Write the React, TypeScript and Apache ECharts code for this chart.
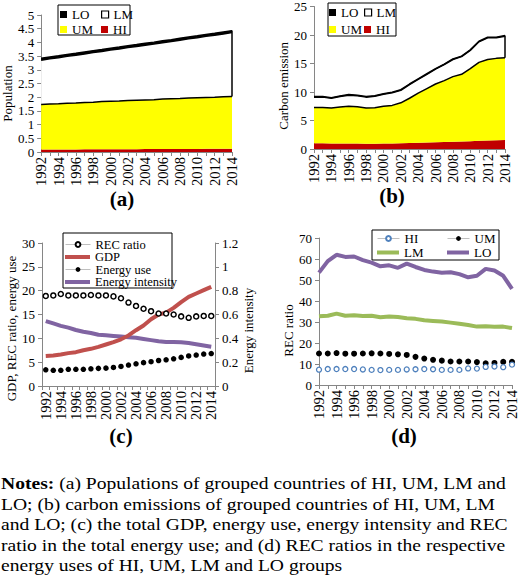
import React, { useEffect, useRef } from "react";
import * as echarts from "echarts";

// ---- data ----
const years = [
  "1992", "1993", "1994", "1995", "1996", "1997", "1998", "1999", "2000", "2001", "2002", "2003",
  "2004", "2005", "2006", "2007", "2008", "2009", "2010", "2011", "2012", "2013", "2014",
];

// (a) population by income group (stacked)
const popHI = [0.09, 0.09, 0.09, 0.09, 0.09, 0.1, 0.1, 0.1, 0.1, 0.1, 0.1, 0.1, 0.11, 0.11, 0.11, 0.11, 0.11, 0.11, 0.11, 0.12, 0.12, 0.12, 0.12];
const popUM = [1.64, 1.66, 1.67, 1.69, 1.7, 1.71, 1.72, 1.74, 1.75, 1.76, 1.78, 1.79, 1.79, 1.8, 1.82, 1.83, 1.84, 1.86, 1.87, 1.87, 1.88, 1.9, 1.91];
const popLM = [1.62, 1.65, 1.68, 1.71, 1.74, 1.77, 1.81, 1.83, 1.87, 1.9, 1.93, 1.96, 2.0, 2.03, 2.06, 2.09, 2.13, 2.16, 2.19, 2.23, 2.26, 2.29, 2.33];
const popLO = [0.07, 0.07, 0.07, 0.07, 0.07, 0.07, 0.07, 0.07, 0.07, 0.07, 0.07, 0.07, 0.07, 0.07, 0.07, 0.07, 0.07, 0.07, 0.07, 0.07, 0.07, 0.07, 0.07];

// (b) carbon emission by income group (stacked)
const co2HI = [1.0, 1.0, 0.98, 0.97, 0.96, 0.95, 0.94, 0.94, 0.96, 0.98, 1.0, 1.05, 1.1, 1.15, 1.2, 1.25, 1.28, 1.3, 1.38, 1.45, 1.5, 1.52, 1.58];
const co2UM = [6.27, 6.3, 6.22, 6.38, 6.54, 6.45, 6.26, 6.31, 6.54, 6.67, 7.1, 7.85, 8.7, 9.45, 10.2, 10.75, 11.42, 11.8, 12.72, 13.75, 14.2, 14.38, 14.42];
const co2LM = [1.83, 1.8, 1.7, 1.85, 1.95, 1.95, 1.9, 2.0, 2.1, 2.2, 2.2, 2.4, 2.4, 2.5, 2.6, 2.8, 3.0, 3.1, 3.2, 3.6, 3.8, 3.6, 3.8];
const co2LO = [0.1, 0.1, 0.1, 0.1, 0.1, 0.1, 0.1, 0.1, 0.1, 0.1, 0.1, 0.1, 0.1, 0.1, 0.1, 0.1, 0.1, 0.1, 0.1, 0.1, 0.1, 0.1, 0.1];

// (c) totals
const recRatio = [18.9, 19.0, 19.3, 19.0, 19.0, 19.0, 19.1, 19.0, 19.0, 18.8, 18.4, 17.5, 16.8, 16.2, 15.7, 15.2, 15.2, 15.0, 14.6, 14.3, 14.6, 14.7, 14.7];
const gdp = [6.3, 6.4, 6.6, 6.9, 7.1, 7.5, 7.8, 8.2, 8.7, 9.2, 9.8, 10.6, 11.7, 12.7, 14.0, 15.0, 15.4, 16.4, 17.6, 18.7, 19.4, 20.1, 20.8];
const energyUse = [3.4, 3.3, 3.3, 3.5, 3.5, 3.5, 3.6, 3.7, 3.75, 3.9, 4.1, 4.4, 4.65, 4.9, 5.1, 5.35, 5.5, 5.7, 6.0, 6.3, 6.5, 6.7, 6.8];
const energyIntensity = [0.545, 0.525, 0.505, 0.49, 0.47, 0.455, 0.445, 0.43, 0.425, 0.42, 0.415, 0.41, 0.405, 0.395, 0.385, 0.375, 0.37, 0.37, 0.367, 0.36, 0.35, 0.34, 0.33];

// (d) REC ratio by income group
const recHI = [7.3, 7.6, 7.6, 7.6, 7.6, 7.4, 7.2, 7.1, 7.2, 7.2, 7.4, 7.5, 7.6, 7.5, 7.2, 7.2, 7.2, 7.9, 7.8, 8.6, 8.8, 8.5, 9.7];
const recUM = [15.0, 15.0, 15.2, 14.9, 14.9, 15.0, 15.1, 15.0, 14.8, 14.6, 14.3, 13.4, 12.6, 12.0, 11.6, 11.2, 11.2, 11.2, 10.9, 10.3, 10.5, 11.0, 11.0];
const recLM = [32.7, 33.0, 34.0, 33.0, 33.2, 32.9, 33.0, 32.3, 32.6, 32.4, 31.8, 31.5, 30.8, 30.5, 30.2, 29.7, 29.2, 28.6, 27.8, 28.0, 27.7, 27.8, 27.1];
const recLO = [53.5, 59.0, 62.0, 61.0, 61.2, 59.5, 58.3, 56.5, 57.0, 55.8, 57.8, 56.2, 54.8, 54.0, 53.5, 53.7, 52.8, 51.3, 52.0, 55.3, 54.5, 52.0, 45.8];

const noteLines = [
  "{b|Notes:} (a) Populations of grouped countries of HI, UM, LM and",
  "LO; (b) carbon emissions of grouped countries of HI, UM, LM",
  "and LO; (c) the total GDP, energy use, energy intensity and REC",
  "ratio in the total energy use; and (d) REC ratios in the respective",
  "energy uses of HI, UM, LM and LO groups",
];

// ---- styling ----
const serif = "'Liberation Serif', 'Times New Roman', serif";
const axisGray = "#868686";
const C = {
  red: "#C00000",
  yellow: "#FFFF00",
  gdp: "#C0504D",
  purple: "#8064A2",
  green: "#9BBB59",
  blue: "#4F81BD",
};
const FS = 13;

const last = years.length - 1;
const stackTop = (arrs: number[][], i: number) => arrs.reduce((s, a) => s + a[i], 0);

function catAxis(gridIndex: number, boundaryGap: boolean) {
  return {
    type: "category",
    gridIndex,
    data: years,
    boundaryGap,
    axisLine: { lineStyle: { color: axisGray, width: 1 } },
    axisTick: { show: true, interval: 0, length: 4, lineStyle: { color: axisGray } },
    axisLabel: { interval: 1, rotate: 90, fontFamily: serif, fontSize: 14.5, color: "#000", margin: 5 },
    splitLine: { show: false },
  };
}

function valAxis(gridIndex: number, min: number, max: number, interval: number, name: string, nameGap: number, shift: number, position = "left") {
  return {
    type: "value",
    gridIndex,
    position,
    min,
    max,
    interval,
    axisLine: { show: true, lineStyle: { color: axisGray, width: 1 } },
    axisTick: { show: true, length: 4, lineStyle: { color: axisGray } },
    axisLabel: { fontFamily: serif, fontSize: FS, color: "#000", margin: 7 },
    splitLine: { show: false },
    name,
    nameLocation: "middle",
    nameGap,
    nameRotate: 90,
    nameTextStyle: {
      fontFamily: serif,
      fontSize: FS,
      color: "#000",
      padding: shift > 0 ? [0, shift * 2, 0, 0] : [0, 0, 0, 0],
    },
  };
}

function areaSeries(name: string, axis: number, stack: string, data: number[], fill: string, line: number, z = 2) {
  return {
    type: "line",
    name,
    xAxisIndex: axis,
    yAxisIndex: axis,
    stack,
    data,
    symbol: "none",
    lineStyle: { width: line, color: "#000" },
    areaStyle: { color: fill, opacity: 1 },
    itemStyle: { color: fill },
    z,
  };
}

function edgeLine(bottom: number, top: number) {
  return {
    silent: true,
    symbol: ["none", "none"],
    label: { show: false },
    lineStyle: { color: "#000", width: 1.5, type: "solid" },
    data: [[{ coord: [years[last], bottom] }, { coord: [years[last], top] }]],
  };
}

const nameOnly = (n: string) => n.split("_")[0];

function legendItem(item: any, left: number, centerY: number, iw: number, ih: number, fs = FS) {
  return {
    data: [item],
    left,
    top: centerY - 6,
    padding: 0,
    itemGap: 0,
    itemWidth: iw,
    itemHeight: ih,
    selectedMode: false,
    formatter: nameOnly,
    textStyle: { fontFamily: serif, fontSize: fs, lineHeight: 12, color: "#000" },
  };
}

function buildOption() {
  const sq = (name: string, left: number, cy: number, color: string, border = false) =>
    legendItem(
      {
        name,
        icon: "rect",
        itemStyle: border ? { color: "#fff", borderColor: "#000", borderWidth: 1.2 } : { color, borderWidth: 0 },
      },
      left,
      cy,
      7,
      7
    );
  const thick = (name: string, left: number, cy: number, color: string, w: number, fs: number) =>
    legendItem({ name, icon: "rect", itemStyle: { color } }, left, cy, w, 4, fs);
  const marker = (name: string, left: number, cy: number, w: number, fs: number) =>
    legendItem({ name, lineStyle: { width: 1, color: "#bfbfbf", opacity: 1 } }, left, cy, w, 6, fs);

  return {
    animation: false,
    backgroundColor: "#fff",
    textStyle: { fontFamily: serif },
    grid: [
      { left: 39, top: 15, width: 193, height: 137 },
      { left: 314, top: 6, width: 191, height: 143 },
      { left: 42, top: 243, width: 173, height: 143 },
      { left: 319, top: 238, width: 193, height: 147 },
    ],
    xAxis: [catAxis(0, false), catAxis(1, false), catAxis(2, true), catAxis(3, false)],
    yAxis: [
      valAxis(0, 0, 5, 0.5, "Population", 20, 10),
      valAxis(1, 0, 25, 5, "Carbon emission", 24, 8),
      valAxis(2, 0, 30, 5, "GDP, REC ratio, energy use", 21, 14),
      valAxis(2, 0, 1.2, 0.2, "Energy intensity", 25, 16, "right"),
      valAxis(3, 0, 70, 10, "REC ratio", 24, 19),
    ],
    legend: [
      sq("LO_a", 60, 14, "#000"),
      sq("LM_a", 101, 14, "#fff", true),
      sq("UM_a", 60, 29, C.yellow),
      sq("HI_a", 101, 29, C.red),
      sq("LO_b", 329, 12, "#000"),
      sq("LM_b", 364, 12, "#fff", true),
      sq("UM_b", 329, 29, C.yellow),
      sq("HI_b", 364, 29, C.red),
      marker("REC ratio_c", 65, 244, 25, 12.5),
      thick("GDP_c", 65, 256.5, C.gdp, 25, 12.5),
      marker("Energy use_c", 65, 269, 25, 12.5),
      thick("Energy intensity_c", 65, 281.5, C.purple, 25, 12.5),
      marker("HI_d", 377, 238, 22, FS),
      marker("UM_d", 447, 238, 22, FS),
      thick("LM_d", 377, 252, C.green, 22, FS),
      thick("LO_d", 447, 252, C.purple, 22, FS),
    ],
    series: [
      // (a)
      areaSeries("HI_a", 0, "pop", popHI, C.red, 0),
      areaSeries("UM_a", 0, "pop", popUM, C.yellow, 1.5, 4),
      {
        ...areaSeries("LM_a", 0, "pop", popLM, "#fff", 1.5, 3),
        markLine: edgeLine(stackTop([popHI, popUM], last), stackTop([popHI, popUM, popLM, popLO], last)),
      },
      areaSeries("LO_a", 0, "pop", popLO, "#000", 1.5, 3),
      // (b)
      areaSeries("HI_b", 1, "co2", co2HI, C.red, 0),
      areaSeries("UM_b", 1, "co2", co2UM, C.yellow, 1.5, 4),
      {
        ...areaSeries("LM_b", 1, "co2", co2LM, "#fff", 1.5, 3),
        markLine: edgeLine(stackTop([co2HI, co2UM], last), stackTop([co2HI, co2UM, co2LM, co2LO], last)),
      },
      areaSeries("LO_b", 1, "co2", co2LO, "#000", 1.5, 3),
      // (c)
      {
        type: "line",
        name: "Energy intensity_c",
        xAxisIndex: 2,
        yAxisIndex: 3,
        data: energyIntensity,
        symbol: "none",
        lineStyle: { width: 4, color: C.purple },
        itemStyle: { color: C.purple },
        z: 2,
      },
      {
        type: "line",
        name: "GDP_c",
        xAxisIndex: 2,
        yAxisIndex: 2,
        data: gdp,
        symbol: "none",
        lineStyle: { width: 4, color: C.gdp },
        itemStyle: { color: C.gdp },
        z: 3,
      },
      {
        type: "line",
        name: "REC ratio_c",
        xAxisIndex: 2,
        yAxisIndex: 2,
        data: recRatio,
        symbol: "circle",
        symbolSize: 5,
        showAllSymbol: true,
        lineStyle: { width: 0, color: "#bfbfbf" },
        itemStyle: { color: "#fff", borderColor: "#000", borderWidth: 1.5 },
        z: 4,
      },
      {
        type: "line",
        name: "Energy use_c",
        xAxisIndex: 2,
        yAxisIndex: 2,
        data: energyUse,
        symbol: "circle",
        symbolSize: 5.5,
        showAllSymbol: true,
        lineStyle: { width: 0, color: "#bfbfbf" },
        itemStyle: { color: "#000" },
        z: 4,
      },
      // (d)
      {
        type: "line",
        name: "LO_d",
        xAxisIndex: 3,
        yAxisIndex: 4,
        data: recLO,
        symbol: "none",
        lineStyle: { width: 4, color: C.purple },
        itemStyle: { color: C.purple },
      },
      {
        type: "line",
        name: "LM_d",
        xAxisIndex: 3,
        yAxisIndex: 4,
        data: recLM,
        symbol: "none",
        lineStyle: { width: 4, color: C.green },
        itemStyle: { color: C.green },
      },
      {
        type: "line",
        name: "UM_d",
        xAxisIndex: 3,
        yAxisIndex: 4,
        data: recUM,
        symbol: "circle",
        symbolSize: 6,
        showAllSymbol: true,
        lineStyle: { width: 0, color: "#bfbfbf" },
        itemStyle: { color: "#000" },
      },
      {
        type: "line",
        name: "HI_d",
        xAxisIndex: 3,
        yAxisIndex: 4,
        data: recHI,
        symbol: "circle",
        symbolSize: 5,
        showAllSymbol: true,
        lineStyle: { width: 0, color: "#bfbfbf" },
        itemStyle: { color: "#fff", borderColor: C.blue, borderWidth: 1.3 },
      },
    ],
    graphic: [
      // legend frames
      { type: "rect", silent: true, shape: { x: 58, y: 5, width: 72, height: 30 }, style: { fill: "none", stroke: "#000", lineWidth: 1 } },
      { type: "rect", silent: true, shape: { x: 328, y: 3, width: 68, height: 33 }, style: { fill: "none", stroke: "#000", lineWidth: 1 } },
      { type: "rect", silent: true, shape: { x: 63, y: 233, width: 109, height: 55 }, style: { fill: "none", stroke: "#000", lineWidth: 1 } },
      { type: "rect", silent: true, shape: { x: 372, y: 230, width: 127, height: 30 }, style: { fill: "none", stroke: "#000", lineWidth: 1 } },
      // panel tags
      ...[
        { t: "(a)", x: 122, y: 199 },
        { t: "(b)", x: 392, y: 196 },
        { t: "(c)", x: 121, y: 436 },
        { t: "(d)", x: 404, y: 436 },
      ].map((p) => ({
        type: "text",
        silent: true,
        x: p.x,
        y: p.y,
        style: { text: p.t, fontFamily: serif, fontSize: 21, fontWeight: "bold", fill: "#000", align: "center", verticalAlign: "middle" },
      })),
      // notes, set slightly widened
      ...noteLines.map((line, i) => ({
        type: "text",
        silent: true,
        x: 1,
        y: 483 + i * 20.5,
        scaleX: 1.12,
        style: {
          text: line,
          fontFamily: serif,
          fontSize: 17.5,
          fill: "#000",
          verticalAlign: "middle",
          rich: { b: { fontFamily: serif, fontSize: 17.5, fontWeight: "bold", fill: "#000" } },
        },
      })),
    ],
  };
}

export default function App() {
  const ref = useRef<HTMLDivElement>(null);
  useEffect(() => {
    if (!ref.current) return;
    const chart = echarts.init(ref.current, null, { renderer: "svg" });
    chart.setOption(buildOption() as any);
    return () => chart.dispose();
  }, []);
  return (
    <div
      ref={ref}
      style={{ position: "absolute", left: 0, top: 0, width: 520, height: 584, background: "#fff" }}
    />
  );
}
